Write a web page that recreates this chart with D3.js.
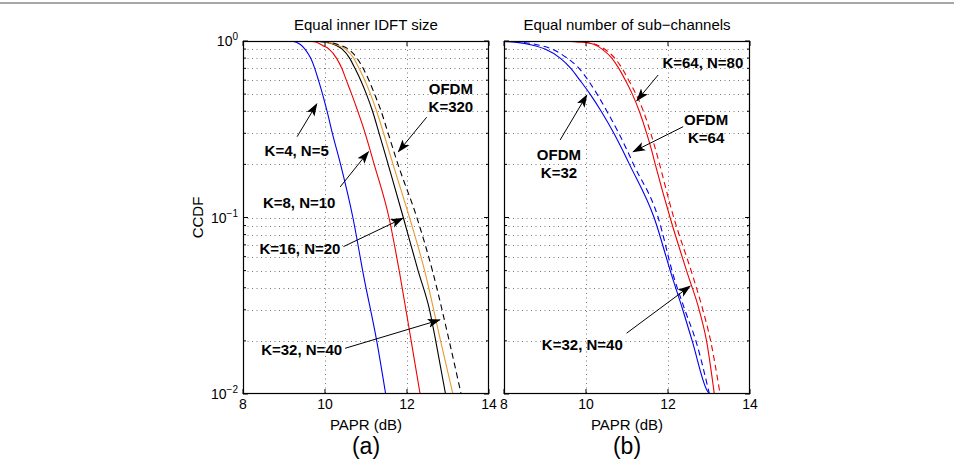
<!DOCTYPE html>
<html>
<head>
<meta charset="utf-8">
<script src="https://cdn.jsdelivr.net/npm/d3@7"></script>
<style>
  body { margin: 0; background: #fff; }
  svg text { font-family: "Liberation Sans", Arial, sans-serif; }
</style>
</head>
<body>
<svg id="chart" width="954" height="460"></svg>
<script>
// ---- data: [PAPR dB, CCDF] ----
const ccdfK4N5 = [[8,1],[9,1],[9.2,0.997],[9.4,0.955],[9.51,0.9],[9.65,0.8],[9.75,0.7],[9.84,0.6],[9.94,0.5],[10.05,0.4],[10.18,0.3],[10.38,0.2],[10.68,0.1],[10.94,0.047],[11.27,0.0195],[11.48,0.01]];
const ccdfK8N10 = [[8,1],[9.4,1],[9.75,0.99],[9.95,0.94],[10.1,0.9],[10.28,0.8],[10.41,0.7],[10.52,0.6],[10.65,0.5],[10.8,0.4],[10.98,0.3],[11.1,0.241],[11.2,0.2],[11.56,0.1],[11.83,0.047],[12.11,0.0195],[12.32,0.01]];
const ccdfK16N20 = [[8,1],[9.6,1],[10.0,0.985],[10.25,0.95],[10.42,0.9],[10.6,0.8],[10.73,0.7],[10.87,0.6],[11.01,0.5],[11.16,0.4],[11.32,0.3],[11.44,0.241],[11.54,0.2],[11.91,0.1],[12.27,0.05],[12.55,0.03],[12.71,0.0195],[12.94,0.01]];
const ccdfK32N40 = [[8,1],[9.7,1],[10.05,0.985],[10.3,0.95],[10.5,0.9],[10.7,0.8],[10.83,0.7],[10.97,0.6],[11.11,0.5],[11.26,0.4],[11.43,0.3],[11.66,0.2],[12.06,0.1],[12.43,0.05],[12.83,0.0195],[13.12,0.01]];
const ccdfOFDM320 = [[8,1],[9.8,1],[10.1,0.985],[10.35,0.95],[10.57,0.9],[10.78,0.8],[10.93,0.7],[11.07,0.6],[11.21,0.5],[11.37,0.4],[11.54,0.3],[11.78,0.2],[12.24,0.1],[12.62,0.05],[13.04,0.0195],[13.32,0.01]];

const ccdfOFDM32 = [[8,0.995],[8.27,0.985],[8.68,0.95],[9.0,0.9],[9.37,0.8],[9.63,0.7],[9.85,0.6],[10.1,0.5],[10.37,0.4],[10.68,0.3],[10.89,0.241],[11.06,0.2],[11.66,0.1],[12.09,0.047],[12.36,0.03],[12.59,0.02],[12.95,0.0105],[13.01,0.01]];
const ccdfK32N40b = [[8,0.998],[8.42,0.985],[8.83,0.95],[9.17,0.9],[9.54,0.8],[9.83,0.7],[10.05,0.6],[10.27,0.5],[10.51,0.4],[10.8,0.3],[11.0,0.241],[11.16,0.2],[11.76,0.1],[12.13,0.047],[12.41,0.03],[12.68,0.02],[13.01,0.01]];
const ccdfK64N80 = [[8,1],[9.37,1],[9.73,0.99],[10.1,0.97],[10.39,0.9],[10.63,0.8],[10.8,0.7],[10.96,0.6],[11.13,0.5],[11.3,0.4],[11.48,0.3],[11.6,0.241],[11.69,0.2],[12.05,0.1],[12.49,0.047],[12.76,0.03],[12.94,0.02],[13.13,0.01]];
const ccdfOFDM64 = [[8,1],[9.4,1],[9.78,0.99],[10.15,0.97],[10.45,0.9],[10.7,0.8],[10.88,0.7],[11.04,0.6],[11.22,0.5],[11.4,0.4],[11.58,0.3],[11.7,0.241],[12.14,0.1],[12.6,0.047],[12.85,0.03],[13.04,0.02],[13.27,0.01]];

const xTicks = [8, 10, 12, 14];
const yDecades = [1, 0.1, 0.01];
const yTickLabels = ["0", "\u22121", "\u22122"];

// annotations: label lines, text anchor (PAPR, CCDF), arrow tail -> head
const notesA = [
  { lines: ["OFDM", "K=320"], at: [13.07, 0.50], from: [12.48, 0.37], to: [11.79, 0.236] },
  { lines: ["K=4, N=5"], at: [9.31, 0.224], from: [9.32, 0.287], to: [9.80, 0.44] },
  { lines: ["K=8, N=10"], at: [9.37, 0.113], from: [10.37, 0.149], to: [11.06, 0.236] },
  { lines: ["K=16, N=20"], at: [9.39, 0.0619], from: [10.45, 0.0684], to: [11.90, 0.099] },
  { lines: ["K=32, N=40"], at: [9.43, 0.01663], from: [10.49, 0.01815], to: [12.80, 0.0263] }
];
const notesB = [
  { lines: ["K=64, N=80"], at: [12.85, 0.70], from: [11.76, 0.642], to: [11.24, 0.459] },
  { lines: ["OFDM", "K=64"], at: [12.93, 0.334], from: [12.37, 0.327], to: [11.15, 0.236] },
  { lines: ["OFDM", "K=32"], at: [9.34, 0.212], from: [9.37, 0.275], to: [10.02, 0.494] },
  { lines: ["K=32, N=40"], at: [9.91, 0.01775], from: [10.99, 0.0221], to: [12.54, 0.0409] }
];

const svg = d3.select("#chart");
const plotTop = 41, plotBottom = 394;

svg.append("line")
  .attr("x1", 0).attr("x2", 954).attr("y1", 3).attr("y2", 3)
  .attr("stroke", "#8a8a8a").attr("stroke-width", 1.5);

const defs = svg.append("defs");
defs.append("marker")
  .attr("id", "head")
  .attr("markerUnits", "userSpaceOnUse")
  .attr("viewBox", "0 0 13 10")
  .attr("refX", 12).attr("refY", 5)
  .attr("markerWidth", 13).attr("markerHeight", 10)
  .attr("orient", "auto")
  .append("path")
  .attr("d", "M0,0.5 L13,5 L0,9.5 L3,5 Z")
  .attr("fill", "#000");

function drawPanel(x0, x1, id, title, tag, series, notes, showY) {
  const x = d3.scaleLinear().domain([8, 14]).range([x0, x1]);
  const y = d3.scaleLog().domain([0.01, 1]).range([plotBottom, plotTop]);
  const g = svg.append("g");

  defs.append("clipPath").attr("id", "clip" + id)
    .append("rect").attr("x", x0).attr("y", plotTop)
    .attr("width", x1 - x0).attr("height", plotBottom - plotTop);

  // minor log values for grid and ticks
  const minors = [];
  [0.01, 0.1].forEach(d => { for (let k = 2; k <= 9; k++) minors.push(d * k); });
  const hGrid = minors.concat([0.1]);

  const grid = g.append("g")
    .attr("stroke", "#555").attr("stroke-width", 0.8)
    .attr("stroke-dasharray", "1,3.5");
  grid.selectAll("line.h").data(hGrid).join("line")
    .attr("x1", x0).attr("x2", x1)
    .attr("y1", d => Math.round(y(d)) + 0.5).attr("y2", d => Math.round(y(d)) + 0.5);
  grid.selectAll("line.v").data([10, 12]).join("line")
    .attr("x1", d => Math.round(x(d)) + 0.5).attr("x2", d => Math.round(x(d)) + 0.5)
    .attr("y1", plotTop).attr("y2", plotBottom);

  // curves
  const line = d3.line()
    .x(d => x(d[0])).y(d => y(d[1]))
    .curve(d3.curveMonotoneX);
  g.append("g").attr("clip-path", `url(#clip${id})`)
    .selectAll("path").data(series).join("path")
    .attr("d", s => line(s.values))
    .attr("fill", "none")
    .attr("stroke", s => s.color)
    .attr("stroke-width", 1.1)
    .attr("stroke-dasharray", s => s.dash ? "6,4" : null);

  // axes box + ticks (inward)
  const axis = g.append("g").attr("stroke", "#000").attr("fill", "none");
  axis.append("rect")
    .attr("x", x0 + 0.5).attr("y", plotTop + 0.5)
    .attr("width", x1 - x0 - 1).attr("height", plotBottom - plotTop - 1)
    .attr("stroke-width", 1.2);
  axis.selectAll("line.xb").data(xTicks).join("line")
    .attr("x1", d => x(d)).attr("x2", d => x(d))
    .attr("y1", plotBottom).attr("y2", plotBottom - 5);
  axis.selectAll("line.xt").data(xTicks).join("line")
    .attr("x1", d => x(d)).attr("x2", d => x(d))
    .attr("y1", plotTop).attr("y2", plotTop + 5);
  [[x0, 1], [x1, -1]].forEach(([xs, dir]) => {
    axis.selectAll(null).data(yDecades).join("line")
      .attr("x1", xs).attr("x2", xs + dir * 5)
      .attr("y1", d => y(d)).attr("y2", d => y(d));
    axis.selectAll(null).data(minors).join("line")
      .attr("x1", xs).attr("x2", xs + dir * 3)
      .attr("y1", d => y(d)).attr("y2", d => y(d));
  });

  // x tick labels
  g.selectAll("text.xt").data(xTicks).join("text")
    .attr("x", d => x(d)).attr("y", 409)
    .attr("text-anchor", "middle").attr("font-size", 14)
    .text(d => d);

  if (showY) {
    const yl = g.selectAll("text.yt").data(yDecades).join("text")
      .attr("x", x0 - 5).attr("y", d => y(d) + 5)
      .attr("text-anchor", "end").attr("font-size", 14);
    yl.append("tspan").text("10");
    yl.append("tspan").attr("dy", -6).attr("font-size", 10).text((d, i) => yTickLabels[i]);
    g.append("text")
      .attr("transform", `translate(${x0 - 40},${(plotTop + plotBottom) / 2}) rotate(-90)`)
      .attr("text-anchor", "middle").attr("font-size", 15)
      .text("CCDF");
  }

  const cx = (x0 + x1) / 2;
  g.append("text").attr("x", cx).attr("y", 30)
    .attr("text-anchor", "middle").attr("font-size", 15).text(title);
  g.append("text").attr("x", cx).attr("y", 430)
    .attr("text-anchor", "middle").attr("font-size", 15).text("PAPR (dB)");
  g.append("text").attr("x", cx).attr("y", 454)
    .attr("text-anchor", "middle").attr("font-size", 23).text(tag);

  // annotations
  const ann = g.append("g");
  notes.forEach(n => {
    ann.append("line")
      .attr("x1", x(n.from[0])).attr("y1", y(n.from[1]))
      .attr("x2", x(n.to[0])).attr("y2", y(n.to[1]))
      .attr("stroke", "#000").attr("stroke-width", 1)
      .attr("marker-end", "url(#head)");
    const t = ann.append("text")
      .attr("x", x(n.at[0])).attr("y", y(n.at[1]))
      .attr("text-anchor", "middle").attr("font-size", 15).attr("font-weight", "bold");
    n.lines.forEach((s, i) => {
      t.append("tspan").attr("x", x(n.at[0])).attr("dy", i === 0 ? 0 : 18.3).text(s);
    });
  });
}

drawPanel(243, 489, "a", "Equal inner IDFT size", "(a)", [
  { values: ccdfK4N5, color: "#0000ee" },
  { values: ccdfK8N10, color: "#ee0000" },
  { values: ccdfK16N20, color: "#000000" },
  { values: ccdfK32N40, color: "#e89a2c" },
  { values: ccdfOFDM320, color: "#000000", dash: true }
], notesA, true);

drawPanel(504, 750, "b", "Equal number of sub\u2212channels", "(b)", [
  { values: ccdfOFDM32, color: "#0000ee" },
  { values: ccdfK32N40b, color: "#0000ee", dash: true },
  { values: ccdfK64N80, color: "#ee0000" },
  { values: ccdfOFDM64, color: "#ee0000", dash: true }
], notesB, false);
</script>
</body>
</html>
